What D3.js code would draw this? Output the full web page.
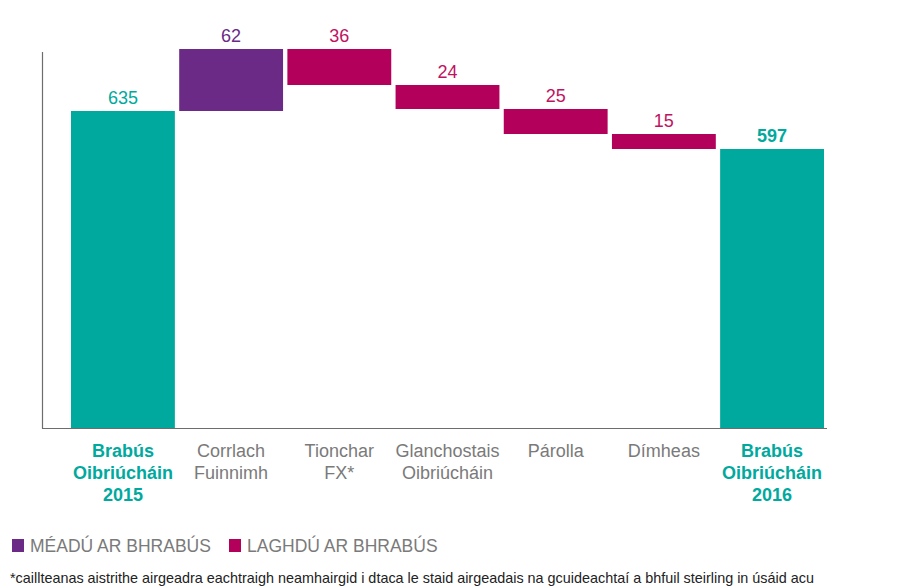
<!DOCTYPE html>
<html>
<head>
<meta charset="utf-8">
<script src="https://cdn.jsdelivr.net/npm/d3@7"></script>
<style>
  body { margin: 0; background: #fff; }
  svg text { font-family: "Liberation Sans", Arial, sans-serif; }
</style>
</head>
<body>
<div id="chart"></div>
<script>

// categories, in order (each label split in lines)
const categories = [
	["Brabús", "Oibriúcháin", "2015"],
	["Corrlach", "Fuinnimh"],
	["Tionchar", "FX*"],
	["Glanchostais", "Oibriúcháin"],
	["Párolla"],
	["Dímheas"],
	["Brabús", "Oibriúcháin", "2016"]
];

// step values: total, then changes (+ up, - down), then total
const values = [635, 62, -36, -24, -25, -15, 597];
const kinds = ["total", "up", "down", "down", "down", "down", "total"];

const legendLabels = ["MÉADÚ AR BHRABÚS", "LAGHDÚ AR BHRABÚS"];
const footnote = "*caillteanas aistrithe airgeadra eachtraigh neamhairgid i dtaca le staid airgeadais na gcuideachtaí a bhfuil steirling in úsáid acu";

const colors = {total: "#00a99d", up: "#6b2a86", down: "#b3005a"};
const labelColors = {total: "#00a99d", up: "#6b2a86", down: "#c0135f"};

const width = 906, height = 587;

let svg = d3.select("#chart").append("svg")
	.attr("width", width)
	.attr("height", height);

// build waterfall steps
let running = 0;
let steps = values.map(function(v, i) {
	let d = {i: i, value: v, kind: kinds[i]};
	if (d.kind === "total") {
		d.start = 0; d.end = v; running = v;
	} else {
		d.start = running; d.end = running + v; running = d.end;
	}
	return d;
});

// scales (value axis is cut off at the bottom)
let x = d3.scaleBand()
	.domain(d3.range(categories.length))
	.range([71, 824])
	.paddingInner(0.04)
	.paddingOuter(0);

let y = d3.scaleLinear()
	.domain([318, 697])
	.range([428, 49]);

// axes lines
svg.append("line")
	.attr("x1", 42.5).attr("x2", 42.5)
	.attr("y1", 52).attr("y2", 428.5)
	.attr("stroke", "#6d6d6d").attr("stroke-width", 1.2);

svg.append("line")
	.attr("x1", 42).attr("x2", 827)
	.attr("y1", 428.5).attr("y2", 428.5)
	.attr("stroke", "#6d6d6d").attr("stroke-width", 1.2);

// bars
svg.selectAll(".bar")
	.data(steps)
	.enter()
	.append("rect")
	.attr("class", "bar")
	.attr("x", d => x(d.i))
	.attr("width", x.bandwidth())
	.attr("y", d => y(Math.max(d.start, d.end)))
	.attr("height", d => Math.min(y.range()[0], y(Math.min(d.start, d.end))) - y(Math.max(d.start, d.end)))
	.attr("fill", d => colors[d.kind]);

// value labels
svg.selectAll(".label")
	.data(steps)
	.enter()
	.append("text")
	.attr("class", "label")
	.attr("x", d => x(d.i) + x.bandwidth() / 2)
	.attr("y", d => y(Math.max(d.start, d.end)) - 7)
	.attr("text-anchor", "middle")
	.attr("font-size", "18px")
	.attr("font-weight", d => d.i === steps.length - 1 ? "bold" : "normal")
	.attr("fill", d => labelColors[d.kind])
	.text(d => Math.abs(d.value));

// category labels
let cat = svg.selectAll(".cat")
	.data(steps)
	.enter()
	.append("text")
	.attr("class", "cat")
	.attr("text-anchor", "middle")
	.attr("font-size", "18px")
	.attr("font-weight", d => d.kind === "total" ? "bold" : "normal")
	.attr("fill", d => d.kind === "total" ? "#00a99d" : "#7a7a7a");

cat.selectAll("tspan")
	.data(d => categories[d.i].map(t => ({t: t, i: d.i})))
	.enter()
	.append("tspan")
	.attr("x", d => x(d.i) + x.bandwidth() / 2)
	.attr("y", (d, j) => 457 + j * 22)
	.text(d => d.t);

// legend
let legend = svg.append("g").attr("class", "legend");
let lx = [12, 229];
legendLabels.forEach(function(l, i) {
	legend.append("rect")
		.attr("x", lx[i]).attr("y", 539)
		.attr("width", 12).attr("height", 13)
		.attr("fill", i === 0 ? colors.up : colors.down);
	legend.append("text")
		.attr("x", lx[i] + 18).attr("y", 552)
		.attr("font-size", "17.5px")
		.attr("fill", "#7a7a7a")
		.text(l);
});

// footnote
svg.append("text")
	.attr("x", 10).attr("y", 583)
	.attr("font-size", "14.4px")
	.attr("fill", "#222")
	.text(footnote);

</script>
</body>
</html>
